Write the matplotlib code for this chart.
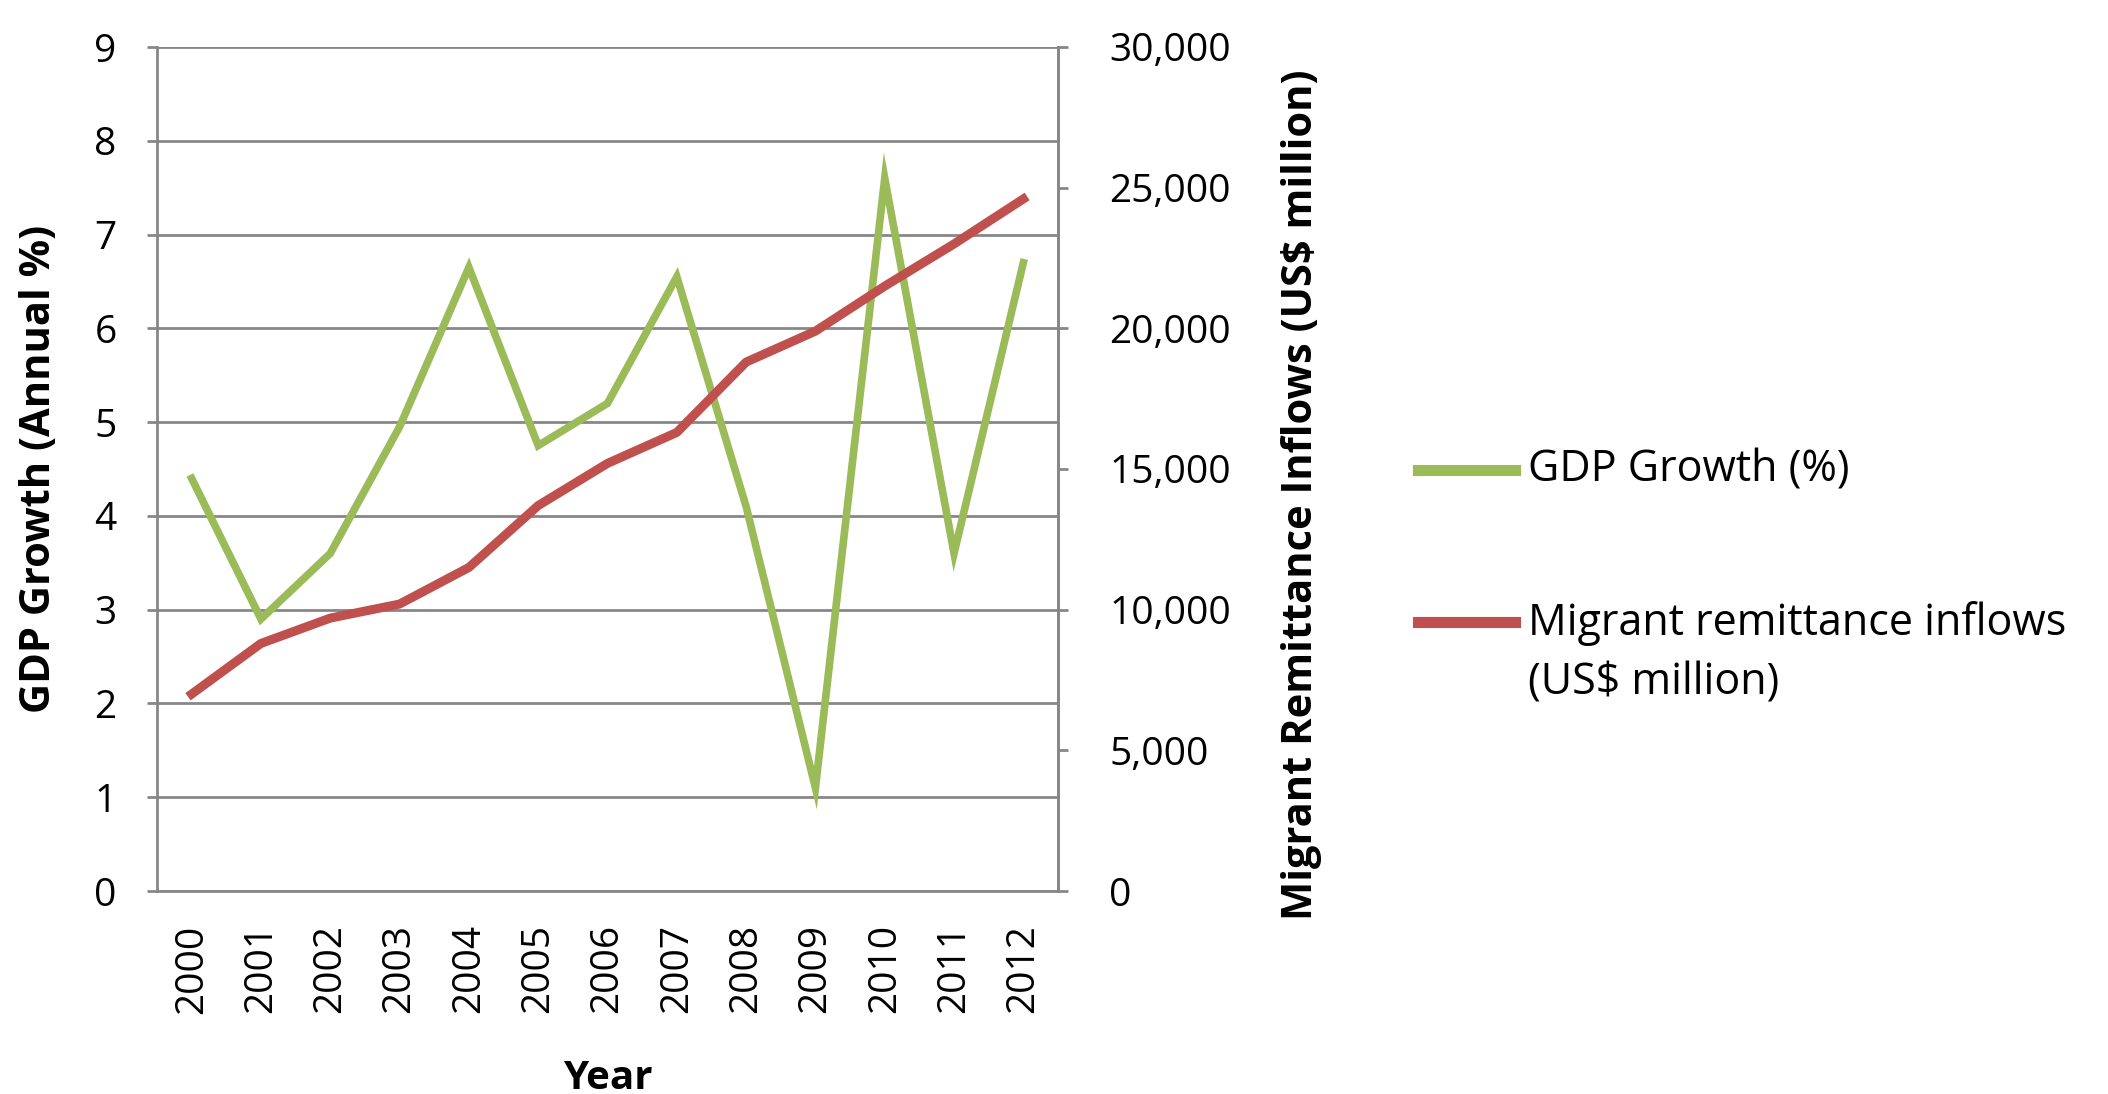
import numpy as np
import matplotlib
matplotlib.use("Agg")
from matplotlib import pyplot as plt
from matplotlib.lines import Line2D
from matplotlib.ticker import FuncFormatter, MultipleLocator

years = ["2000", "2001", "2002", "2003", "2004", "2005", "2006",
         "2007", "2008", "2009", "2010", "2011", "2012"]
gdp_growth = [4.4, 2.9, 3.6, 4.95, 6.65, 4.75, 5.2, 6.55, 4.1, 1.1, 7.6, 3.6, 6.7]
remittances = [7000, 8800, 9700, 10200, 11500, 13700, 15200,
               16300, 18800, 19900, 21500, 23000, 24600]

green = "#9BBB59"
red = "#C0504D"
grid_gray = "#878787"

plt.rcParams['font.family'] = ['Open Sans', 'DejaVu Sans']

W, H = 2108, 1094
fig = plt.figure(figsize=(W/100, H/100), dpi=100)
left, right, top, bottom = 157, 1058, 47, 891
ax = fig.add_axes([left/W, 1-bottom/H, (right-left)/W, (bottom-top)/H])

x = np.arange(len(years))
ax.plot(x, gdp_growth, color=green, lw=5.5, solid_joinstyle="miter", zorder=3)
ax.set_xlim(-0.5, len(years)-0.5)
ax.set_ylim(0, 9)
ax.yaxis.set_major_locator(MultipleLocator(1))
ax.grid(axis="y", color=grid_gray, lw=2)
ax.set_axisbelow(True)
ax.set_xticks(x)
ax.set_xticklabels(years, rotation=90, fontsize=28)
ax.tick_params(axis="x", length=0, pad=24)
ax.tick_params(axis="y", length=7, width=2, color=grid_gray, labelsize=28, pad=22)
ax.spines["top"].set_visible(False)
for s in ["left", "bottom", "right"]:
    ax.spines[s].set_color(grid_gray)
    ax.spines[s].set_linewidth(2)
ax.set_ylabel("GDP Growth (Annual %)", fontsize=30, fontweight="bold", va="center")
ax.yaxis.set_label_coords(-0.13, 0.5)
ax.set_xlabel("Year", fontsize=29, fontweight="bold", va="center")
ax.xaxis.set_label_coords(0.5, -0.222)

ax2 = ax.twinx()
ax2.plot(x, remittances, color=red, lw=6.5, zorder=4)
ax2.set_ylim(0, 30000)
ax2.yaxis.set_major_locator(MultipleLocator(5000))
ax2.yaxis.set_major_formatter(FuncFormatter(lambda v, p: f"{int(v):,}"))
ax2.tick_params(axis="y", length=7, width=2, color=grid_gray, labelsize=28, pad=30)
for s in ["top", "left", "bottom"]:
    ax2.spines[s].set_visible(False)
ax2.spines["right"].set_color(grid_gray)
ax2.spines["right"].set_linewidth(2)
ax2.set_ylabel("Migrant Remittance Inflows (US$ million)", fontsize=30,
               fontweight="bold", rotation=90, va="center")
ax2.yaxis.set_label_coords(1.27, 0.47)

# legend
fig.add_artist(Line2D([1418/W, 1515/W], [1-470/H]*2, color=green, lw=8))
fig.text(1528/W, 1-470/H, "GDP Growth (%)", fontsize=31, va="center")
fig.add_artist(Line2D([1418/W, 1515/W], [1-622/H]*2, color=red, lw=8))
fig.text(1528/W, 1-653/H, "Migrant remittance inflows\n(US$ million)",
         fontsize=31, va="center", linespacing=1.45)

fig.savefig("out.png", dpi=100)
